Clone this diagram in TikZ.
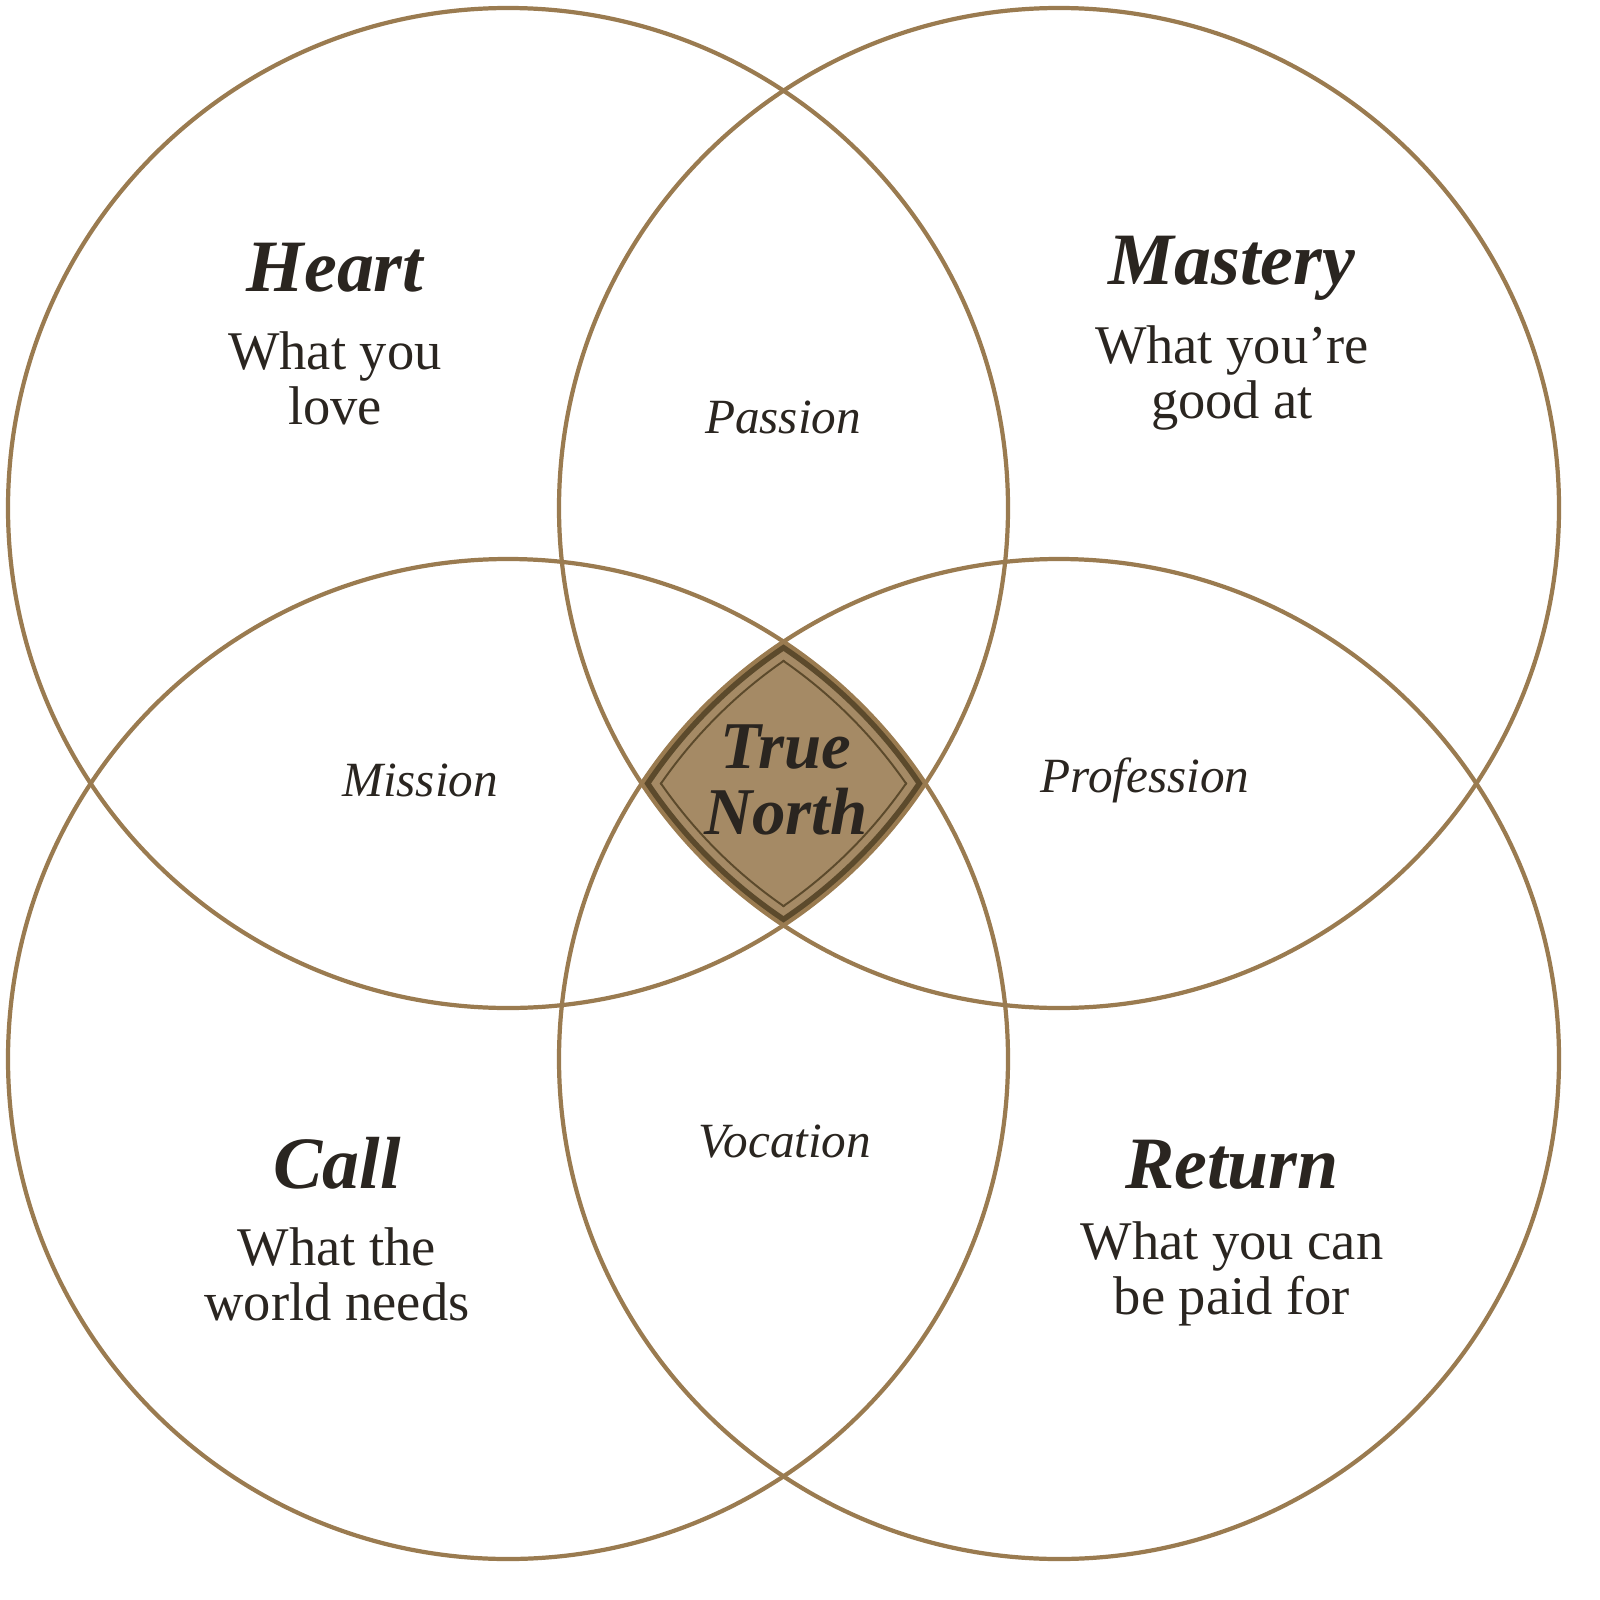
\documentclass[tikz,border=0pt]{standalone}
\usepackage{fontspec}
\setmainfont{Liberation Serif}
\definecolor{ring}{HTML}{9A7B50}
\definecolor{ink}{HTML}{2A2520}
\definecolor{core}{HTML}{A58A65}
\definecolor{coreline}{HTML}{5C4A2C}
\begin{document}
\begin{tikzpicture}[x=0.01cm,y=-0.01cm,
  title/.style={font=\fontsize{21}{24}\selectfont\bfseries\itshape,text=ink},
  body/.style={font=\fontsize{15.5}{15.6}\selectfont,text=ink,align=center},
  lab/.style={font=\fontsize{14}{16}\selectfont\itshape,text=ink},
  ringline/.style={draw=ring,line width=1.2pt}]
\def\R{500}
% core fill
\begin{scope}
 \clip (508,508) circle (\R); \clip (1059,508) circle (\R);
 \clip (508,1059) circle (\R); \clip (1059,1059) circle (\R);
 \fill[core] (500,500) rectangle (1100,1100);
 \foreach \c in {(508,508),(1059,508),(508,1059),(1059,1059)}
   \draw[coreline,line width=4.4pt] \c circle (\R);
 \clip (508,508) circle (485); \clip (1059,508) circle (485);
 \clip (508,1059) circle (485); \clip (1059,1059) circle (485);
 \foreach \c in {(508,508),(1059,508),(508,1059),(1059,1059)}
   \draw[coreline,line width=1.1pt] \c circle (485);
\end{scope}
\draw[ringline] (508,508) circle (\R);
\draw[ringline] (1059,508) circle (\R);
\draw[ringline] (508,1059) circle (\R);
\draw[ringline] (1059,1059) circle (\R);
\node[title] (heart) at (335,268) {Heart};
\node[body] (hb) at (335,378) {What you\\love};
\node[title] (mast) at (1232,268) {Mastery};
\node[body] (mb) at (1232,378) {What you're\\good at};
\node[title] (call) at (337,1163) {Call};
\node[body] (cb) at (337,1274) {What the\\world needs};
\node[title] (ret) at (1232,1165) {Return};
\node[body] (rb) at (1232,1274) {What you can\\be paid for};
\node[lab] (pas) at (783,417) {Passion};
\node[lab] (mis) at (420,780) {Mission};
\node[lab] (pro) at (1145,780) {Profession};
\node[lab] (voc) at (785,1142) {Vocation};
\node[title,align=center,font=\fontsize{19}{19}\selectfont\bfseries\itshape] (tn) at (786,780) {True\\North};
\pgfresetboundingbox
\useasboundingbox (0,0) rectangle (1600,1600);
\end{tikzpicture}
\end{document}
